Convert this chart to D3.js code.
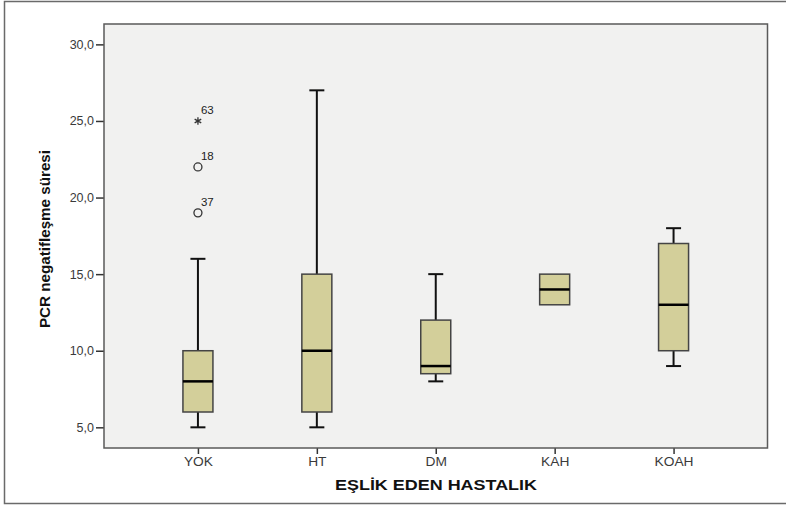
<!DOCTYPE html>
<html><head><meta charset="utf-8">
<script src="https://cdn.jsdelivr.net/npm/d3@7"></script>
<style>body{margin:0;background:#fff;} svg{display:block;font-family:"Liberation Sans",Arial,sans-serif;}</style>
</head><body><svg id="c" width="786" height="508"></svg>
<script>
const categories = ["YOK","HT","DM","KAH","KOAH"];
const whiskerLow = [5, 5, 8, 13, 9];
const q1 = [6, 6, 8.5, 13, 10];
const median = [8, 10, 9, 14, 13];
const q3 = [10, 15, 12, 15, 17];
const whiskerHigh = [16, 27, 15, 15, 18];
const outlierCat = ["YOK","YOK","YOK"];
const outlierVal = [25, 22, 19];
const outlierId = ["63","18","37"];
const outlierType = ["star","circle","circle"];
const yTicks = [5, 10, 15, 20, 25, 30];
const xTitle = "EŞLİK EDEN HASTALIK";
const yTitle = "PCR negatifleşme süresi";

const svg = d3.select("#c");
const L = 104, R = 767.5, T = 24, B = 448;
// outer frame
svg.append("rect").attr("x",4.5).attr("y",1.5).attr("width",790).attr("height",502)
  .attr("fill","#fff").attr("stroke","#6a6a6a").attr("stroke-width",1.5);
svg.append("rect").attr("x",L).attr("y",T).attr("width",R-L).attr("height",B-T)
  .attr("fill","#f1f1f0");

const x = d3.scalePoint().domain(categories).range([L,R]).padding(0.79);
const y = d3.scaleLinear().domain([3.65, 31.33]).range([B, T]);

// axes
const yAxis = svg.append("g").attr("transform",`translate(${L},0)`)
  .call(d3.axisLeft(y).tickValues(yTicks).tickSize(8).tickFormat(d => d3.format(".1f")(d).replace(".",",")));
const xAxis = svg.append("g").attr("transform",`translate(0,${B})`)
  .call(d3.axisBottom(x).tickSize(6));
[yAxis, xAxis].forEach(g => {
  g.select(".domain").remove();
  g.selectAll(".tick line").attr("stroke","#333").attr("stroke-width",1.5);
  g.selectAll(".tick text").attr("fill","#3a3a3a").style("font-size","12.5px").style("font-family","Liberation Sans, Arial, sans-serif");
});
yAxis.selectAll(".tick text").attr("x",-10);
xAxis.selectAll(".tick text").attr("y",9).each(function(){
  const w = this.getComputedTextLength();
  d3.select(this).attr("textLength", w*1.1).attr("lengthAdjust","spacingAndGlyphs");
});

// plot frame
svg.append("rect").attr("x",L).attr("y",T).attr("width",R-L).attr("height",B-T)
  .attr("fill","none").attr("stroke","#5a5a5a").attr("stroke-width",1.5);

const bw = 30, cw = 15;
const data = categories.map((c,i)=>({c, lo:whiskerLow[i], q1:q1[i], med:median[i], q3:q3[i], hi:whiskerHigh[i]}));
const g = svg.append("g");
data.forEach(d => {
  const cx = x(d.c);
  g.append("line").attr("x1",cx).attr("x2",cx).attr("y1",y(d.q3)).attr("y2",y(d.hi)).attr("stroke","#111").attr("stroke-width",2);
  g.append("line").attr("x1",cx).attr("x2",cx).attr("y1",y(d.q1)).attr("y2",y(d.lo)).attr("stroke","#111").attr("stroke-width",2);
  if (d.hi !== d.q3) g.append("line").attr("x1",cx-cw/2).attr("x2",cx+cw/2).attr("y1",y(d.hi)).attr("y2",y(d.hi)).attr("stroke","#111").attr("stroke-width",2);
  if (d.lo !== d.q1) g.append("line").attr("x1",cx-cw/2).attr("x2",cx+cw/2).attr("y1",y(d.lo)).attr("y2",y(d.lo)).attr("stroke","#111").attr("stroke-width",2);
  g.append("rect").attr("x",cx-bw/2).attr("y",y(d.q3)).attr("width",bw).attr("height",y(d.q1)-y(d.q3))
    .attr("fill","#d3cf9a").attr("stroke","#444").attr("stroke-width",1.5);
  g.append("line").attr("x1",cx-bw/2).attr("x2",cx+bw/2).attr("y1",y(d.med)).attr("y2",y(d.med)).attr("stroke","#000").attr("stroke-width",2.5);
});

// outliers
outlierVal.forEach((v,i) => {
  const cx = x(outlierCat[i]), cy = y(v);
  if (outlierType[i] === "circle") {
    svg.append("circle").attr("cx",cx).attr("cy",cy).attr("r",4).attr("fill","none").attr("stroke","#333").attr("stroke-width",1.3);
  } else {
    svg.append("path").attr("d",d3.symbol(d3.symbolAsterisk,40)()).attr("transform",`translate(${cx},${cy})`).attr("stroke","#333").attr("stroke-width",1.3);
  }
  svg.append("text").attr("x",cx+3).attr("y",cy-7).text(outlierId[i]).attr("fill","#222").style("font-size","11.5px");
});

// titles
svg.append("text").attr("x",436).attr("y",490).attr("text-anchor","middle").text(xTitle)
  .attr("textLength",202).attr("lengthAdjust","spacingAndGlyphs")
  .style("font-weight","bold").style("font-size","15.5px").attr("fill","#111");
svg.append("text").attr("transform","translate(50,239) rotate(-90)").attr("text-anchor","middle").text(yTitle)
  .attr("textLength",178).attr("lengthAdjust","spacingAndGlyphs")
  .style("font-weight","bold").style("font-size","14.5px").attr("fill","#111");
</script></body></html>
